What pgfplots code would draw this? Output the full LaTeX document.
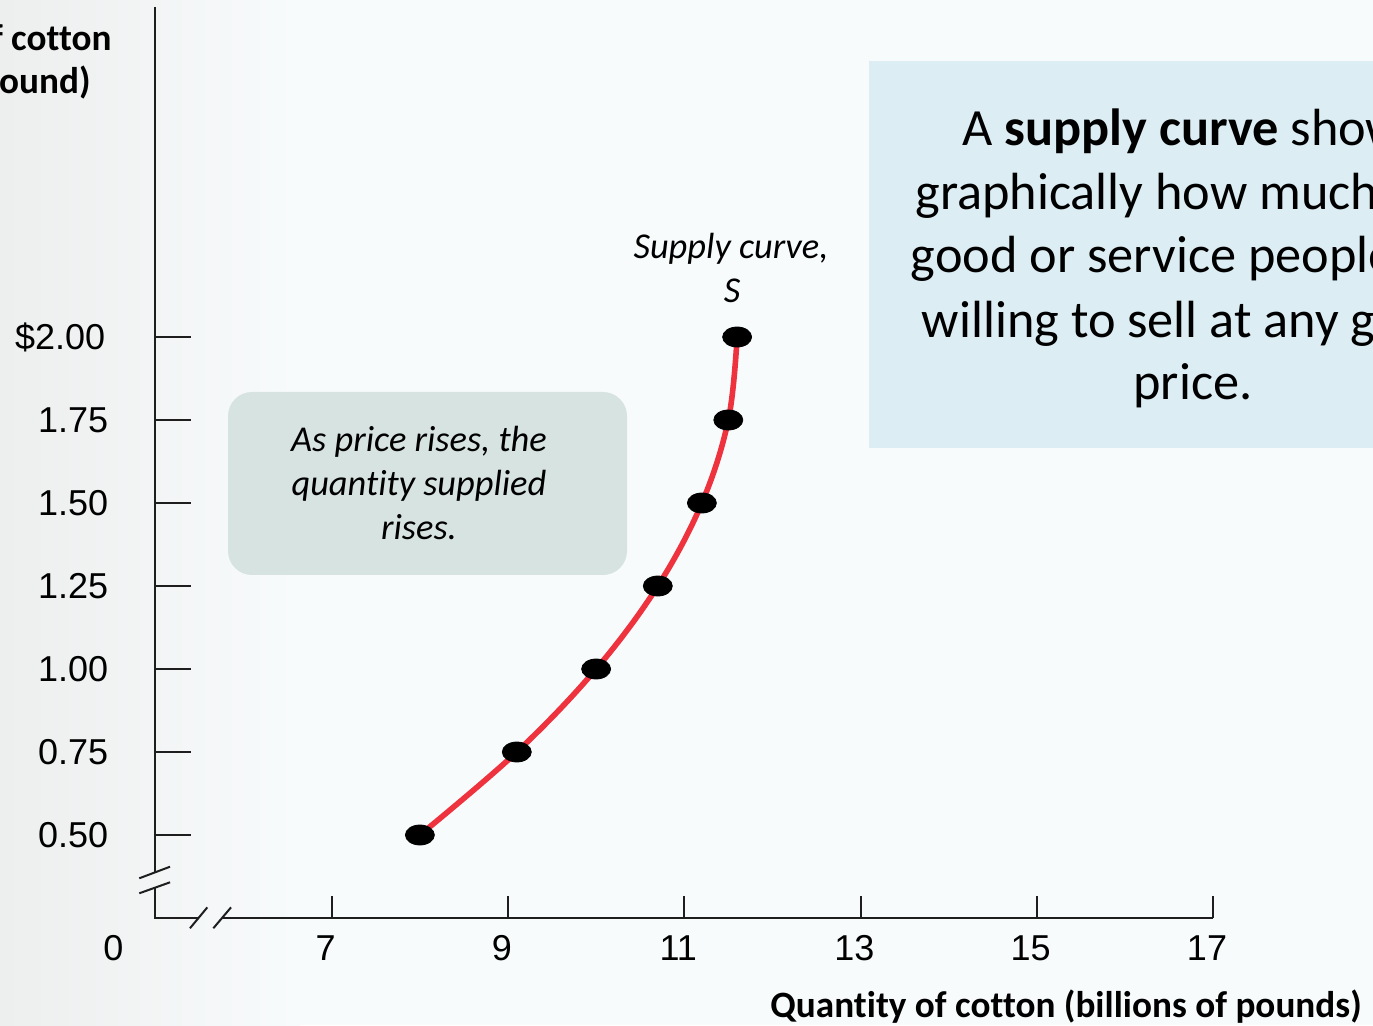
\documentclass[border=0pt]{standalone}
\usepackage{fontspec}
\setmainfont{Carlito}[Ligatures=NoCommon]
\newfontfamily\arialfont{Liberation Sans}
\usepackage{pgfplots}
\pgfplotsset{compat=1.18}
\definecolor{bg}{RGB}{248,251,252}
\definecolor{bgl}{RGB}{237,238,238}
\definecolor{bluebox}{RGB}{220,237,243}
\definecolor{greenbox}{RGB}{214,227,225}
\definecolor{curvered}{RGB}{238,50,62}
\definecolor{axisgray}{RGB}{30,30,30}
\begin{document}
\begin{tikzpicture}
\clip (0,0) rectangle (686.5pt,512.5pt);
\fill[bg] (0,0) rectangle (686.5pt,512.5pt);
\shade[left color=bgl, right color=bg] (0,0) rectangle (150pt,512.5pt);
\fill[bluebox] (434.5pt,288.5pt) rectangle (762.5pt,482pt);
\fill[greenbox, rounded corners=12pt] (114pt,225pt) rectangle (313.5pt,316.5pt);
\begin{axis}[
  at={(77.75pt,53.5pt)}, anchor=south west, scale only axis,
  width=528.75pt, height=455.5pt,
  xmin=5, xmax=17, ymin=0.25, ymax=2.994,
  axis lines=left, axis line style={draw=none},
  major tick length=0pt,
  xtick={7,9,11,13,15,17}, xticklabels={7,9,11,13,15,17},
  ytick={0.5,0.75,1,1.25,1.5,1.75,2},
  yticklabels={0.50,0.75,1.00,1.25,1.50,1.75,\$2.00\hspace*{1.5pt}},
  ticklabel style={font=\arialfont\fontsize{18}{21}\selectfont, inner sep=0pt, text=black},
  yticklabel style={anchor=east, xshift=-23.5pt},
  xticklabel style={anchor=north, yshift=-8.5pt, xshift=-3pt},
  clip=false,
  /pgf/number format/assume math mode=true,
]
% axis lines with breaks
\draw[axisgray, line width=1pt] (axis cs:5,2.994) -- (axis cs:5,0.3886);
\draw[axisgray, line width=1pt] (axis cs:5,0.3434) -- (axis cs:5,0.25) -- (axis cs:5.482,0.25);
\draw[axisgray, line width=1pt] (axis cs:5.755,0.25) -- (axis cs:17,0.25);
\draw[axisgray, line width=1pt] (axis cs:4.816,0.3696) -- (axis cs:5.165,0.4045);
\draw[axisgray, line width=1pt] (axis cs:4.816,0.3244) -- (axis cs:5.165,0.3575);
\draw[axisgray, line width=1pt] (axis cs:5.391,0.219) -- (axis cs:5.588,0.282);
\draw[axisgray, line width=1pt] (axis cs:5.656,0.219) -- (axis cs:5.857,0.282);
\pgfplotsinvokeforeach{0.5,0.75,1,1.25,1.5,1.75,2}{\draw[axisgray, line width=1pt] (axis cs:5,#1) -- ++(17.5pt,0pt);}
\pgfplotsinvokeforeach{7,9,11,13,15,17}{\draw[axisgray, line width=1pt] (axis cs:#1,0.25) -- ++(0pt,11pt);}
\node[anchor=north, inner sep=0pt, font=\arialfont\fontsize{18}{21}\selectfont] at ([xshift=-21pt,yshift=-8.5pt]axis cs:5,0.25) {0};
\addplot[draw=curvered, line width=2.8pt, smooth, tension=0.6] coordinates {(8,0.5) (9.1,0.75) (10,1) (10.7,1.25) (11.2,1.5) (11.5,1.75) (11.6,2)};
\addplot[only marks, mark=*, mark size=5pt, mark options={fill=black, draw=black, xscale=1.45}] coordinates {(8,0.5) (9.1,0.75) (10,1) (10.7,1.25) (11.2,1.5) (11.5,1.75) (11.6,2)};
\end{axis}
% titles
\node[anchor=base, inner sep=0pt, font=\bfseries\fontsize{18.6}{21.5}\selectfont] at (533pt,4pt) {Quantity of cotton (billions of pounds)};
\node[anchor=north east, align=center, inner sep=0pt, font=\bfseries\fontsize{18.6}{21.5}\selectfont] at (56pt,500.5pt) {Price of cotton\\(per pound)};
% supply label
\begin{scope}[every node/.style={anchor=base, inner sep=0pt, font=\itshape\fontsize{18.2}{22}\selectfont}]
\node at (365.5pt,383pt) {Supply curve,};
\node at (366pt,361pt) {S};
\node at (209.5pt,286.5pt) {As price rises, the};
\node at (209.5pt,264.5pt) {quantity supplied};
\node at (209.5pt,242.5pt) {rises.};
\end{scope}
\begin{scope}[every node/.style={anchor=base, inner sep=0pt, font=\fontsize{26.15}{31.5}\selectfont}]
\node at (596.5pt,439.5pt) {A \textbf{supply curve} shows};
\node at (596.5pt,407.5pt) {graphically how much of a};
\node at (596.5pt,376pt) {good or service people are};
\node at (596.5pt,343.75pt) {willing to sell at any given};
\node at (596.5pt,312.5pt) {price.};
\end{scope}
\end{tikzpicture}
\end{document}
